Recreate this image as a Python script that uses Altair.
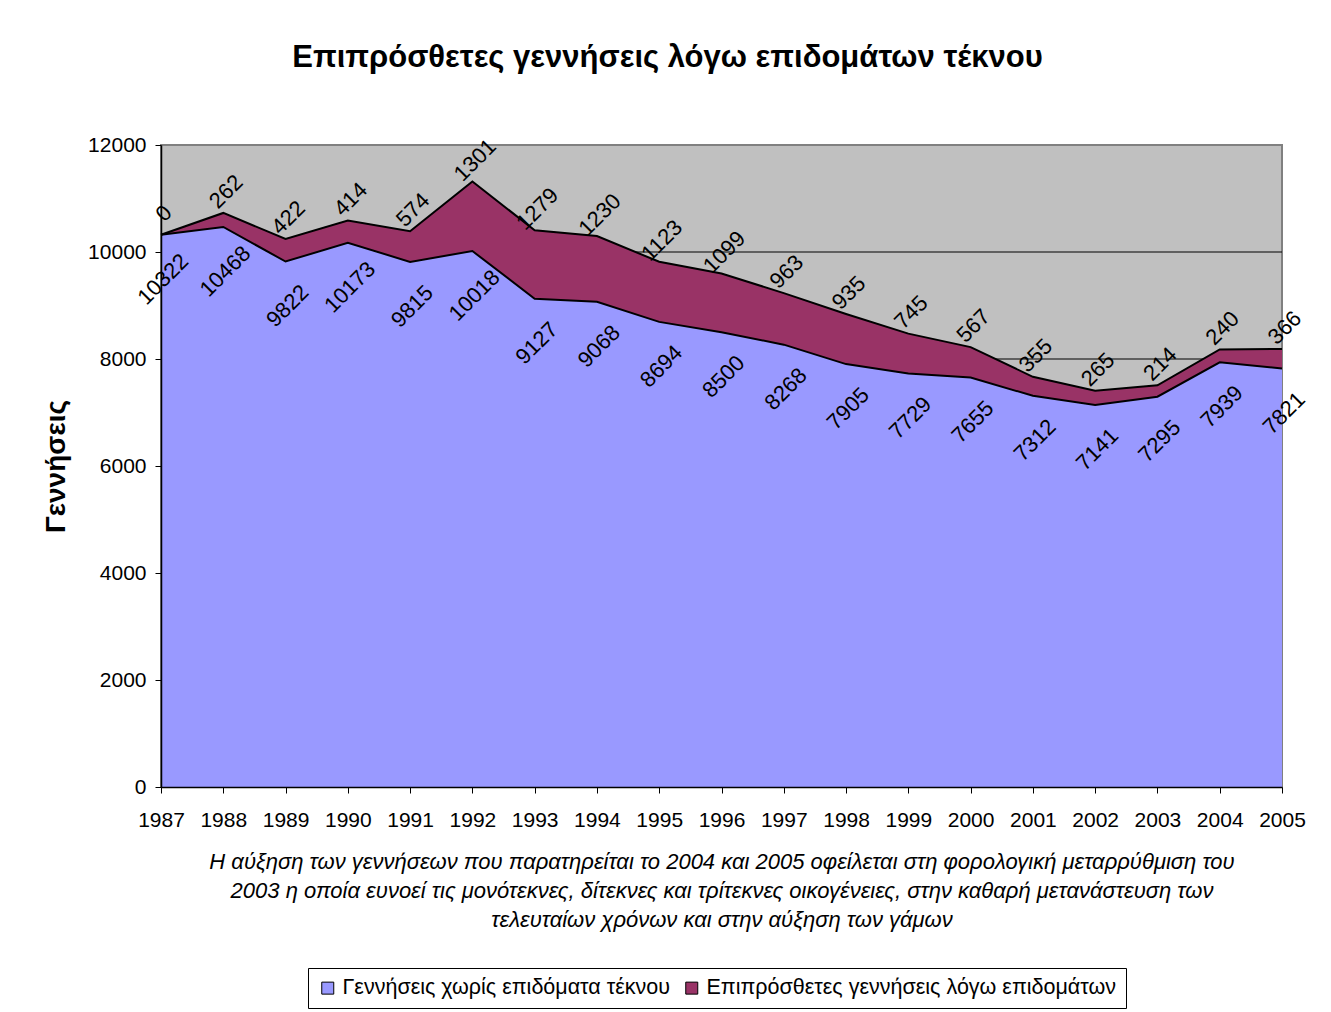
import altair as alt
import pandas as pd

years = list(range(1987, 2006))
base_births = [10322, 10468, 9822, 10173, 9815, 10018, 9127, 9068, 8694, 8500,
               8268, 7905, 7729, 7655, 7312, 7141, 7295, 7939, 7821]
extra_births = [0, 262, 422, 414, 574, 1301, 1279, 1230, 1123, 1099,
                963, 935, 745, 567, 355, 265, 214, 240, 366]
series_names = ["Γεννήσεις χωρίς επιδόματα τέκνου",
                "Επιπρόσθετες γεννήσεις λόγω επιδομάτων"]
series_colors = ["#9999FF", "#993366"]
y_ticks = [0, 2000, 4000, 6000, 8000, 10000, 12000]
grid_values = [2000, 4000, 6000, 8000, 10000]
title_text = "Επιπρόσθετες γεννήσεις λόγω επιδομάτων τέκνου"
y_title = "Γεννήσεις"
caption_lines = [
    "Η αύξηση των γεννήσεων που παρατηρείται το 2004 και 2005 οφείλεται στη φορολογική μεταρρύθμιση του",
    "2003 η οποία ευνοεί τις μονότεκνες, δίτεκνες και τρίτεκνες οικογένειες, στην καθαρή μετανάστευση των",
    "τελευταίων χρόνων και στην αύξηση των γάμων",
]

FONT = "Liberation Sans"

long_rows = []
for i, yr in enumerate(years):
    long_rows.append({"year": yr, "series": series_names[0], "value": base_births[i], "ord": 0})
    long_rows.append({"year": yr, "series": series_names[1], "value": extra_births[i], "ord": 1})
long_df = pd.DataFrame(long_rows)

wide_df = pd.DataFrame({"year": years, "base": base_births, "extra": extra_births})
wide_df["total"] = wide_df["base"] + wide_df["extra"]

grid_df = pd.DataFrame({"g": grid_values})

x_scale = alt.Scale(domain=[1987, 2005], nice=False, zero=False)
y_scale = alt.Scale(domain=[0, 12000], nice=False)

x_axis = alt.Axis(
    values=years, format="d", grid=False, tickSize=6, tickColor="black",
    domainColor="black", domainWidth=1.5, labelFont=FONT, labelFontSize=21,
    labelColor="black", labelPadding=16, labelFlush=False, labelOverlap=False,
    title=caption_lines, titleFont=FONT, titleFontSize=22, titleFontStyle="italic",
    titleFontWeight="normal", titleLineHeight=29, titlePadding=21, titleColor="black",
    zindex=1,
)
y_axis = alt.Axis(
    values=y_ticks, format="d", grid=False, tickSize=6, tickColor="black",
    domainColor="black", domainWidth=1.5, labelFont=FONT, labelFontSize=21,
    labelColor="black", labelPadding=9,
    title=y_title, titleFont=FONT, titleFontSize=28, titleFontWeight="bold",
    titlePadding=17, titleColor="black", zindex=1,
)

X = alt.X("year:Q", scale=x_scale, axis=x_axis)

grid = alt.Chart(grid_df).mark_rule(color="black", strokeWidth=1).encode(
    y=alt.Y("g:Q", scale=y_scale, axis=y_axis)
)

area = alt.Chart(long_df).mark_area(opacity=1).encode(
    x=X,
    y=alt.Y("value:Q", stack="zero", scale=y_scale, axis=y_axis),
    color=alt.Color(
        "series:N",
        scale=alt.Scale(domain=series_names, range=series_colors),
        legend=alt.Legend(
            title=None, orient="none", legendX=147, legendY=823,
            direction="horizontal", symbolType="square", symbolSize=144,
            symbolStrokeColor="black", symbolStrokeWidth=1,
            labelFont=FONT, labelFontSize=21.5, labelColor="black",
            labelOffset=4, columnPadding=10, padding=9,
            strokeColor="black", fillColor="white", labelLimit=600,
        ),
    ),
    order=alt.Order("ord:Q"),
)

line_base = alt.Chart(wide_df).mark_line(color="black", strokeWidth=2).encode(
    x=X, y=alt.Y("base:Q", scale=y_scale, axis=y_axis)
)
line_total = alt.Chart(wide_df).mark_line(color="black", strokeWidth=2).encode(
    x=X, y=alt.Y("total:Q", scale=y_scale, axis=y_axis)
)

text_base = alt.Chart(wide_df).mark_text(
    angle=315, dx=-30, dy=33, font=FONT, fontSize=22, color="black",
    align="center", baseline="middle",
).encode(x=X, y=alt.Y("base:Q", scale=y_scale, axis=y_axis), text=alt.Text("base:Q", format="d"))

text_extra = alt.Chart(wide_df).mark_text(
    angle=315, dx=17, dy=-13, font=FONT, fontSize=22, color="black",
    align="center", baseline="middle",
).encode(x=X, y=alt.Y("total:Q", scale=y_scale, axis=y_axis), text=alt.Text("extra:Q", format="d"))

chart = alt.layer(grid, area, line_base, line_total, text_base, text_extra).properties(
    width=1121,
    height=642,
    padding={"left": 153, "top": 137, "right": 40, "bottom": 223},
    autosize=alt.AutoSizeParams(type="none"),
    background="white",
    title=alt.TitleParams(
        text=title_text, font=FONT, fontSize=31, fontWeight="bold", color="black",
        anchor="middle", dx=-54, offset=36, baseline="alphabetic",
    ),
).configure_view(
    fill="#C0C0C0", stroke="#808080", strokeWidth=2
)

chart.save("out.html", embed_options={"renderer": "svg", "actions": False})
